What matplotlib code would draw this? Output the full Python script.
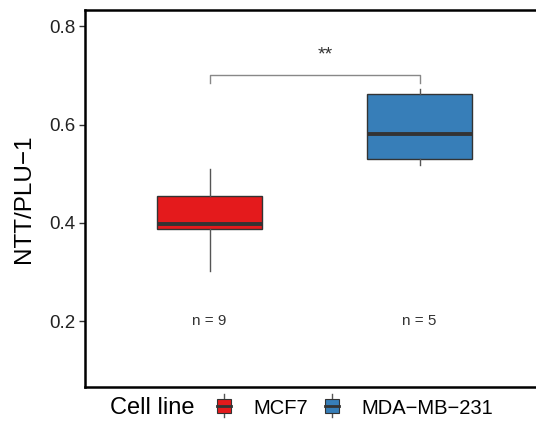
import matplotlib
matplotlib.use("Agg")
import matplotlib.pyplot as plt
from matplotlib.legend_handler import HandlerBase
from matplotlib.patches import Patch, Rectangle
from matplotlib.lines import Line2D

plt.rcParams['font.family'] = ['Liberation Sans', 'DejaVu Sans']

# data
cell_lines = ["MCF7", "MDA-MB-231"]
colors = ["#E41A1C", "#377EB8"]
whislo = [0.302, 0.517]
q1 = [0.387, 0.530]
med = [0.397, 0.580]
q3 = [0.454, 0.663]
whishi = [0.509, 0.673]
n_obs = [9, 5]
sig_label = "**"
sig_y = 0.70

fig = plt.figure(figsize=(5.36, 4.21), dpi=100)
# right edge of the panel runs off the figure (cropped in the original)
ax = fig.add_axes([85 / 536, 0.0808, 490 / 536, 0.8955])

stats = []
for i in range(len(cell_lines)):
    stats.append(dict(med=med[i], q1=q1[i], q3=q3[i], whislo=whislo[i],
                      whishi=whishi[i], fliers=[], label=cell_lines[i]))

bp = ax.bxp(stats, positions=[1, 2], widths=0.5, patch_artist=True,
            showcaps=False, showfliers=False,
            boxprops=dict(edgecolor="#333333", linewidth=1.0),
            medianprops=dict(color="#333333", linewidth=2.8, solid_capstyle="butt"),
            whiskerprops=dict(color="#555555", linewidth=1.0))
for patch, c in zip(bp["boxes"], colors):
    patch.set_facecolor(c)

# n labels
for i, n in enumerate(n_obs):
    ax.text(i + 1, 0.2, f"n = {n}", ha="center", va="center", fontsize=11,
            color="#333333")

# significance bracket
ax.plot([1, 1, 2, 2], [sig_y - 0.015, sig_y, sig_y, sig_y - 0.015],
        color="#888888", linewidth=1.0)
ax.text(1.55, sig_y + 0.042, sig_label, ha="center", va="center",
        fontsize=14, color="#333333")

ax.set_xlim(0.407, 0.407 + 490 / 210)
ax.set_ylim(0.066, 0.833)
ax.set_yticks([0.2, 0.4, 0.6, 0.8])
ax.set_yticklabels(["0.2", "0.4", "0.6", "0.8"])
ax.set_xticks([])
ax.tick_params(axis="y", labelsize=13.5, length=4, width=1, color="#333333",
               labelcolor="#222222", pad=3)
for s in ax.spines.values():
    s.set_linewidth(1.8)
    s.set_color("black")
ax.spines["right"].set_visible(False)
ax.set_ylabel("NTT/PLU\u22121", fontsize=17.5, labelpad=10)


class BoxHandler(HandlerBase):
    def create_artists(self, legend, orig, xd, yd, width, height, fontsize, trans):
        c = orig.get_facecolor()
        cx = xd + width / 2
        w = width * 0.8
        h = height * 0.95
        line = Line2D([cx, cx], [yd - height * 0.28, yd + height * 1.28],
                      color="#555555", linewidth=1.0, transform=trans)
        rect = Rectangle((cx - w / 2, yd + (height - h) / 2), w, h,
                         facecolor=c, edgecolor="#333333", linewidth=0.8,
                         transform=trans)
        mline = Line2D([cx - w / 2, cx + w / 2], [yd + height / 2, yd + height / 2],
                       color="#333333", linewidth=2.0, transform=trans)
        return [line, rect, mline]


handles = [Patch(facecolor=c) for c in colors]
labels = ["MCF7", "MDA\u2212MB\u2212231"]
fig.text(110 / 536, 1 - 408 / 421, "Cell line", fontsize=17, ha="left", va="center")
fig.legend(handles, labels, handler_map={Patch: BoxHandler()}, ncol=2,
           loc="center left", bbox_to_anchor=(215 / 536, 1 - 408 / 421),
           frameon=False, fontsize=14.5, handlelength=0.9, handleheight=0.75,
           handletextpad=1.0, columnspacing=0.75, borderpad=0, borderaxespad=0)

fig.savefig("out.png", dpi=100)
